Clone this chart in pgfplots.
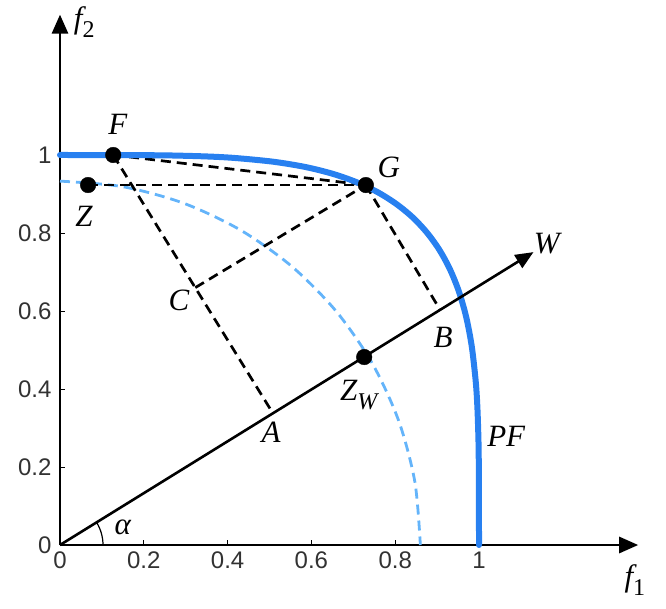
\documentclass[border=0pt]{standalone}
\usepackage{pgfplots}
\pgfplotsset{compat=1.18}
\usepackage{fontspec}
\setmainfont{Liberation Serif}
\newfontfamily\sansf{Liberation Sans}
\usetikzlibrary{arrows.meta}
\definecolor{pfblue}{RGB}{40,128,240}
\definecolor{lblue}{RGB}{100,180,250}
\definecolor{ticktxt}{RGB}{50,50,50}
\newcommand\lab{\fontsize{31}{33}\selectfont\itshape}
\newcommand\sub[1]{\raisebox{-0.3em}{\fontsize{24}{26}\selectfont #1}}
\begin{document}
\begin{tikzpicture}
\useasboundingbox (-60pt,-63pt) rectangle (606pt,545pt);
\begin{axis}[
  x=419pt, y=390pt,
  xmin=0, xmax=1.38, ymin=0, ymax=1.36,
  axis lines=left,
  axis line style={line width=2.8pt},
  every outer x axis line/.append style={-{Triangle[length=19pt,width=16pt]}},
  every outer y axis line/.append style={-{Triangle[length=19pt,width=16pt]}},
  xtick={0,0.2,0.4,0.6,0.8,1},
  ytick={0,0.2,0.4,0.6,0.8,1},
  tick align=inside,
  major tick length=5pt,
  tick style={line width=0.8pt, black},
  /pgf/number format/assume math mode=true,
  ticklabel style={font=\sansf\fontsize{24}{26}\selectfont, text=ticktxt},
  xticklabel style={yshift=-3pt},
  yticklabel style={xshift=-5pt},
  clip=false,
]
% inner dashed contour
\addplot[lblue, line width=2.8pt, dash pattern=on 10pt off 6pt, smooth] coordinates {
 (0,0.933) (0.1493,0.9188) (0.2941,0.8767) (0.43,0.808) (0.5528,0.7147)
 (0.6588,0.5997) (0.7448,0.4665) (0.8081,0.3191) (0.8469,0.162) (0.86,0)};
% black dashed construction lines
\addplot[black, line width=2.7pt, dash pattern=on 10pt off 6pt] coordinates {(0.067,0.923) (0.73,0.923)};
\addplot[black, line width=2.7pt, dash pattern=on 10pt off 6pt] coordinates {(0.127,1.0) (0.73,0.923)};
\addplot[black, line width=2.7pt, dash pattern=on 10pt off 6pt] coordinates {(0.127,1.0) (0.508,0.338)};
\addplot[black, line width=2.7pt, dash pattern=on 10pt off 6pt] coordinates {(0.323,0.66) (0.73,0.923)};
\addplot[black, line width=2.7pt, dash pattern=on 10pt off 6pt] coordinates {(0.73,0.923) (0.907,0.603)};
% Pareto front
\addplot[pfblue, line width=6pt, smooth, line cap=round] coordinates {
 (0,1) (0.1321,0.99992) (0.1868,0.9997) (0.2641,0.9988) (0.3491,0.9963)
 (0.4167,0.9924) (0.5087,0.9828) (0.5848,0.9694) (0.6501,0.952) (0.7071,0.9306)
 (0.7574,0.9051) (0.8017,0.8752) (0.8409,0.8409) (0.8752,0.8017) (0.9051,0.7574)
 (0.9306,0.7071) (0.952,0.6501) (0.9694,0.5848) (0.9828,0.5087) (0.9924,0.4167)
 (0.9963,0.3491) (0.9988,0.2641) (0.9997,0.1868) (0.99992,0.1321) (1,0)};
% W direction
\addplot[black, line width=2.6pt, -{Triangle[length=18pt,width=15pt]}] coordinates {(0,0) (1.13,0.751)};
% points
\addplot[only marks, mark=*, mark size=7.8pt, black] coordinates {
 (0.127,1.0) (0.73,0.923) (0.067,0.923) (0.726,0.482)};
% labels
\node[font=\lab] at (axis cs:0.138,1.079) {F};
\node[font=\lab] at (axis cs:0.785,0.967) {G};
\node[font=\lab] at (axis cs:0.057,0.842) {Z};
\node[font=\lab] at (axis cs:0.284,0.628) {C};
\node[font=\lab] at (axis cs:0.504,0.29) {A};
\node[font=\lab] at (axis cs:0.914,0.533) {B};
\node[font=\lab] at (axis cs:0.713,0.385) {Z\sub{W}};
\node[font=\lab] at (axis cs:1.162,0.774) {W};
\node[font=\lab] at (axis cs:1.065,0.279) {PF};
\node[font=\lab] at (axis cs:0.15,0.046) {α};
\node[font=\lab] at (axis cs:1.372,-0.09) {f\sub{\upshape 1}};
\node[font=\lab] at (axis cs:0.058,1.341) {f\sub{\upshape 2}};
\end{axis}
\draw[line width=1.2pt] (43pt,0) arc[start angle=0, end angle=32, radius=43pt];
\end{tikzpicture}
\end{document}
